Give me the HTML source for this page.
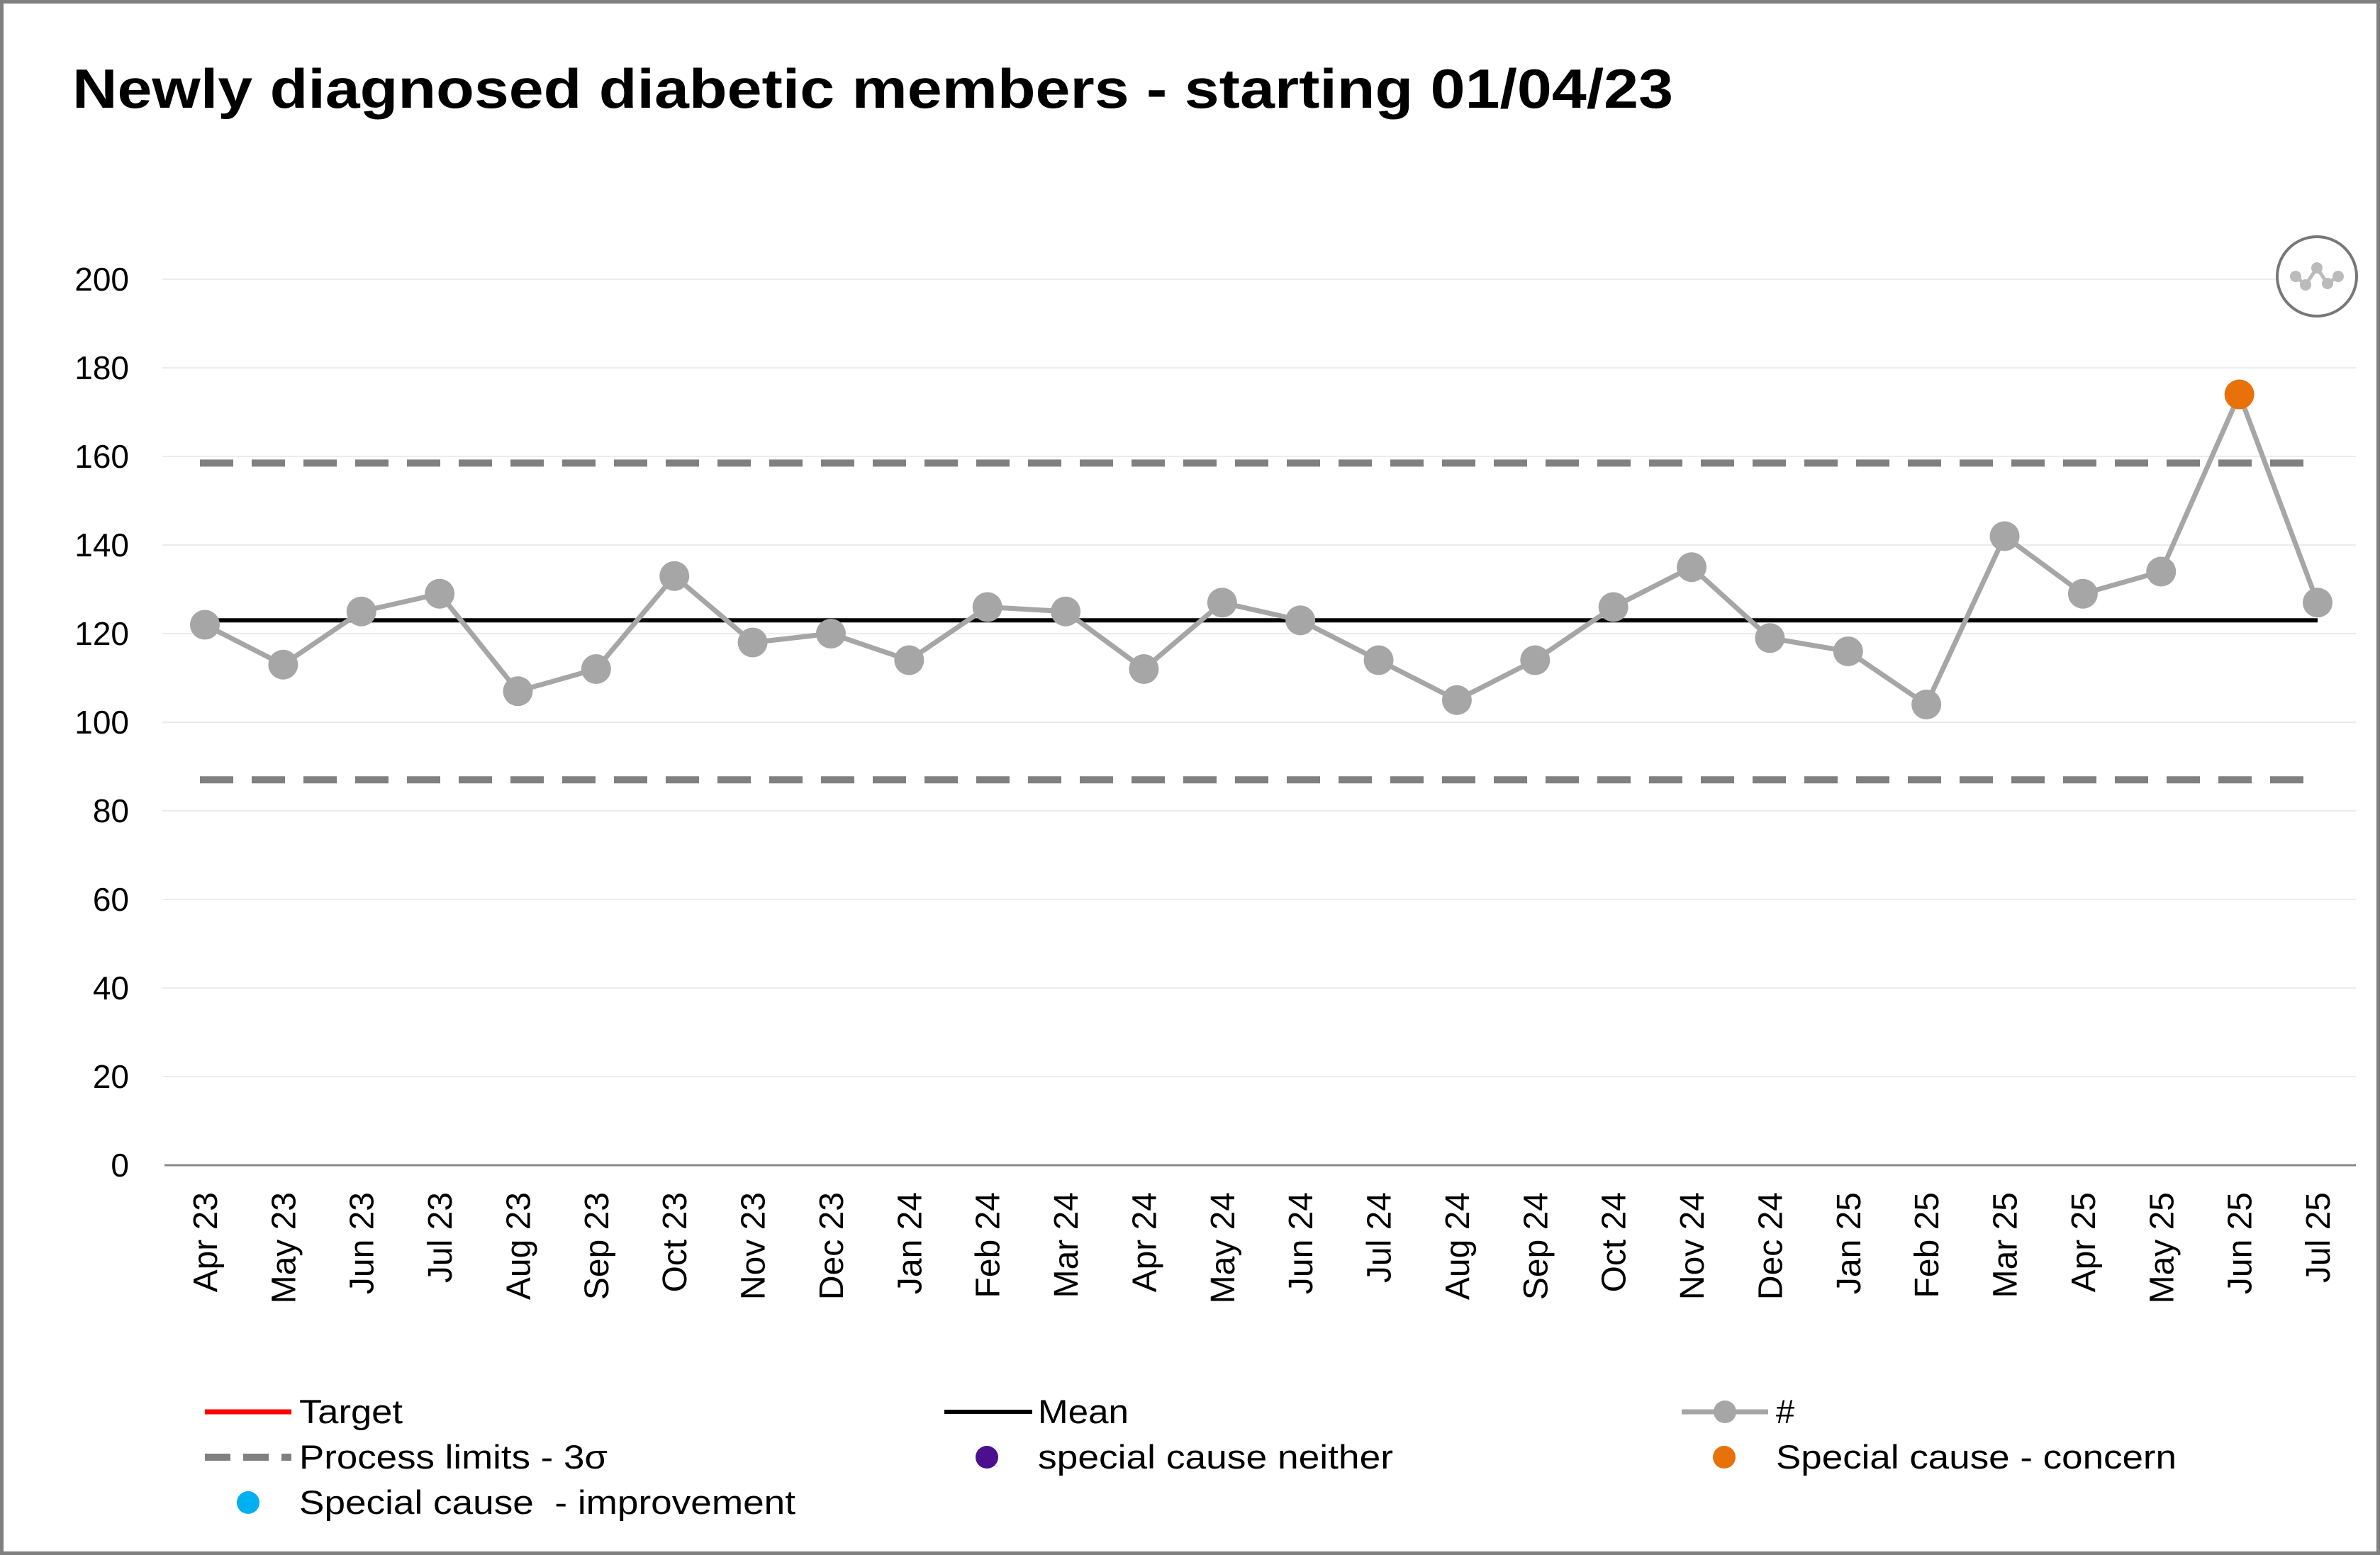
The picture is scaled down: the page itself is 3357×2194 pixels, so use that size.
<!DOCTYPE html>
<html><head><meta charset="utf-8"><style>
html,body{margin:0;padding:0;background:#fff}
svg{display:block;font-family:"Liberation Sans",sans-serif}
</style></head><body>
<svg id="chart" width="3357" height="2194" viewBox="0 0 3357 2194" xmlns="http://www.w3.org/2000/svg">
<rect x="2.5" y="2.5" width="3352" height="2189" fill="#fff" stroke="#808080" stroke-width="5"/>
<text x="102" y="152" font-size="78" font-weight="bold" textLength="2258" lengthAdjust="spacingAndGlyphs">Newly diagnosed diabetic members - starting 01/04/23</text>
<g id="grid"></g><g id="limits"></g><g id="series"></g><g id="xlabels"></g>
<g>
<circle cx="3268" cy="390" r="56" fill="#fff" stroke="#777" stroke-width="4"/>
<polyline points="3238,390 3252,402 3268,378 3283,400 3298,390" fill="none" stroke="#bbb" stroke-width="5"/>
<circle cx="3238" cy="390" r="8" fill="#bbb"/><circle cx="3252" cy="402" r="8" fill="#bbb"/><circle cx="3268" cy="378" r="8" fill="#bbb"/><circle cx="3283" cy="400" r="8" fill="#bbb"/><circle cx="3298" cy="390" r="8" fill="#bbb"/>
</g>
<g font-size="47">
<g><line x1="289" y1="1992" x2="411" y2="1992" stroke="#ff0000" stroke-width="7"/><text x="422" y="2008" textLength="146" lengthAdjust="spacingAndGlyphs">Target</text></g>
<g><line x1="1332" y1="1992" x2="1456" y2="1992" stroke="#000" stroke-width="6"/><text x="1464" y="2008" textLength="128" lengthAdjust="spacingAndGlyphs">Mean</text></g>
<g><line x1="2372" y1="1992" x2="2494" y2="1992" stroke="#a6a6a6" stroke-width="7"/><circle cx="2433" cy="1992" r="16" fill="#a6a6a6"/><text x="2505" y="2008">#</text></g>
<g><line x1="289" y1="2056" x2="411" y2="2056" stroke="#808080" stroke-width="10" stroke-dasharray="36,18"/><text x="422" y="2072" textLength="435" lengthAdjust="spacingAndGlyphs">Process limits - 3σ</text></g>
<g><circle cx="1392" cy="2056" r="16" fill="#4b0f8f"/><text x="1464" y="2072" textLength="501" lengthAdjust="spacingAndGlyphs">special cause neither</text></g>
<g><circle cx="2432" cy="2056" r="16" fill="#e8710a"/><text x="2505" y="2072" textLength="565" lengthAdjust="spacingAndGlyphs">Special cause - concern</text></g>
<g><circle cx="350" cy="2120" r="16" fill="#00b0f0"/><text x="422" y="2136" textLength="700" lengthAdjust="spacingAndGlyphs" xml:space="preserve">Special cause  - improvement</text></g>
</g>
</svg>
<script>
const categories=["Apr 23","May 23","Jun 23","Jul 23","Aug 23","Sep 23","Oct 23","Nov 23","Dec 23","Jan 24","Feb 24","Mar 24","Apr 24","May 24","Jun 24","Jul 24","Aug 24","Sep 24","Oct 24","Nov 24","Dec 24","Jan 25","Feb 25","Mar 25","Apr 25","May 25","Jun 25","Jul 25"];
const values=[122,113,125,129,107,112,133,118,120,114,126,125,112,127,123,114,105,114,126,135,119,116,104,142,129,134,174,127];
const meanValue=[123];
const limits=[158.5,87];
const concernIdx=[26];
const yTicks=[0,20,40,60,80,100,120,140,160,180,200];
const NS="http://www.w3.org/2000/svg";
const x0=289,dx=(3269-289)/27,yBase=1644,yTop=394;
function X(i){return x0+i*dx;}
function Y(v){return yBase-(v/200)*(yBase-yTop);}
function mk(t,a,p){const e=document.createElementNS(NS,t);for(const k in a)e.setAttribute(k,a[k]);p.appendChild(e);return e;}
const grid=document.getElementById('grid');
yTicks.forEach(v=>{
 if(v>0){const l=mk('line',{x1:229,x2:3323,y1:Y(v),y2:Y(v),stroke:'#ececec','stroke-width':2},grid);
 
 }
 const t=mk('text',{x:182,y:Y(v)+16,'font-size':46,'text-anchor':'end'},grid);
 
 
 t.textContent=v;
});
const ax=mk('line',{x1:232,x2:3323,y1:yBase,y2:yBase,stroke:'#888','stroke-width':3},grid);


const lim=document.getElementById('limits');
limits.forEach((v,k)=>{const l=mk('line',{x1:X(0)-7,x2:X(27),y1:Y(v),y2:Y(v),stroke:'#808080','stroke-width':10,'stroke-dasharray':'47,26'},lim);
 
 });
const ml=mk('line',{x1:X(0),x2:X(27),y1:Y(meanValue[0]),y2:Y(meanValue[0]),stroke:'#000','stroke-width':6},lim);


const s=document.getElementById('series');
const pl=mk('polyline',{points:values.map((v,i)=>X(i)+','+Y(v)).join(' '),fill:'none',stroke:'#a6a6a6','stroke-width':7,'stroke-linejoin':'round'},s);


values.forEach((v,i)=>{const c=mk('circle',{cx:X(i),cy:Y(v),r:21,fill:concernIdx.includes(i)?'#e8710a':'#a6a6a6'},s);
 
 });
const xl=document.getElementById('xlabels');
categories.forEach((c,i)=>{const t=mk('text',{x:0,y:0,'font-size':48,'text-anchor':'end',transform:`translate(${X(i)+17},1682) rotate(-90)`},xl);
 
 
 t.textContent=c;});
</script>
</body></html>
